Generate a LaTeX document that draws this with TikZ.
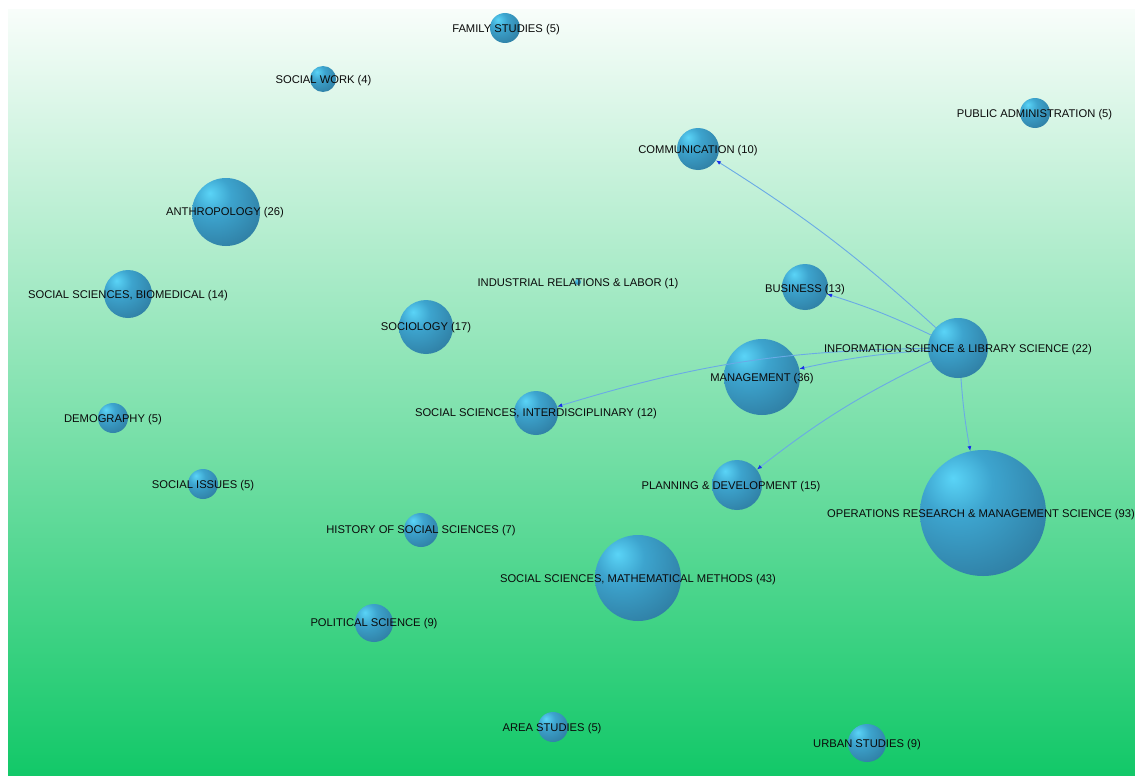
\documentclass[tikz,border=0pt]{standalone}
\usepackage{fontspec}
\setmainfont{Liberation Sans}
\usetikzlibrary{arrows.meta}
\definecolor{bggreen}{HTML}{12C868}
\definecolor{bgtop}{HTML}{F8FDFA}
\definecolor{sphhl}{HTML}{5AD4F7}
\definecolor{sphmid}{HTML}{3DA4CE}
\definecolor{sphdk}{HTML}{2F7EA3}
\definecolor{sphedge}{HTML}{29627F}
\definecolor{edgec}{HTML}{6AAAE6}
\definecolor{arrowc}{HTML}{1A30E8}
\definecolor{labelc}{HTML}{0A0A0A}
\pgfdeclareradialshading{sphere}{\pgfpoint{-12bp}{14bp}}{color(0bp)=(sphhl); color(14bp)=(sphmid); color(38bp)=(sphdk); color(62bp)=(sphedge); color(100bp)=(sphedge)}
\begin{document}
\begin{tikzpicture}[x=1pt,y=-1pt,
  sph/.style={circle,inner sep=0pt,minimum size=#1,shade,shading=sphere},
  lbl/.style={font=\fontsize{11.2}{13}\selectfont,text=labelc,inner sep=0pt,yshift=-1.5pt},
  link/.style={draw=edgec,line width=0.9pt,-{Latex[length=5pt,width=4pt,color=arrowc]}}]
\useasboundingbox (0,0) rectangle (1135,776);
\fill[white] (0,0) rectangle (1135,776);
\shade[top color=bgtop,bottom color=bggreen] (8,10) rectangle (1135,776);
% spheres
\node[sph=30] (fam) at (505,28) {};
\node[sph=26] (swk) at (323,79) {};
\node[sph=30] (pad) at (1035,113) {};
\node[sph=42] (com) at (698,149) {};
\node[sph=68] (ant) at (226,212) {};
\node[sph=48] (bio) at (128,294) {};
\node[sph=6] (ind) at (578,282) {};
\node[sph=46] (bus) at (805,287) {};
\node[sph=54] (soc) at (426,327) {};
\node[sph=60] (inf) at (958,348) {};
\node[sph=76] (man) at (762,377) {};
\node[sph=30] (dem) at (113,418) {};
\node[sph=44] (int) at (536,413) {};
\node[sph=30] (iss) at (203,484) {};
\node[sph=50] (pla) at (737,485) {};
\node[sph=126] (ops) at (983,513) {};
\node[sph=34] (his) at (421,530) {};
\node[sph=86] (mat) at (638,578) {};
\node[sph=38] (pol) at (374,623) {};
\node[sph=30] (are) at (553,727) {};
\node[sph=38] (urb) at (867,743) {};
% links
\draw[link] (inf) to[bend right=5] (com);
\draw[link] (inf) to[bend right=4] (bus);
\draw[link] (inf) to[bend right=4] (man);
\draw[link] (inf) to[bend right=8] (int);
\draw[link] (inf) to[bend right=6] (pla);
\draw[link] (inf) to[bend right=3] (ops);
% labels
\node[lbl] (lfam) at (506,28) {FAMILY STUDIES (5)};
\node[lbl] (lswk) at (323.5,79) {SOCIAL WORK (4)};
\node[lbl] (lpad) at (1034.5,113) {PUBLIC ADMINISTRATION (5)};
\node[lbl] (lcom) at (698,149) {COMMUNICATION (10)};
\node[lbl] (lant) at (225,211) {ANTHROPOLOGY (26)};
\node[lbl] (lbio) at (128,294) {SOCIAL SCIENCES, BIOMEDICAL (14)};
\node[lbl] (lind) at (578,282) {INDUSTRIAL RELATIONS \& LABOR (1)};
\node[lbl] (lbus) at (805,288) {BUSINESS (13)};
\node[lbl] (lsoc) at (426,326) {SOCIOLOGY (17)};
\node[lbl] (linf) at (958,348) {INFORMATION SCIENCE \& LIBRARY SCIENCE (22)};
\node[lbl] (lman) at (762,377) {MANAGEMENT (36)};
\node[lbl] (ldem) at (113,418) {DEMOGRAPHY (5)};
\node[lbl] (lint) at (536,412) {SOCIAL SCIENCES, INTERDISCIPLINARY (12)};
\node[lbl] (liss) at (203,484) {SOCIAL ISSUES (5)};
\node[lbl] (lpla) at (731,485) {PLANNING \& DEVELOPMENT (15)};
\node[lbl] (lops) at (981,513) {OPERATIONS RESEARCH \& MANAGEMENT SCIENCE (93)};
\node[lbl] (lhis) at (421,529) {HISTORY OF SOCIAL SCIENCES (7)};
\node[lbl] (lmat) at (638,578) {SOCIAL SCIENCES, MATHEMATICAL METHODS (43)};
\node[lbl] (lpol) at (374,622) {POLITICAL SCIENCE (9)};
\node[lbl] (lare) at (552,727) {AREA STUDIES (5)};
\node[lbl] (lurb) at (867,743) {URBAN STUDIES (9)};
\end{tikzpicture}
\end{document}
